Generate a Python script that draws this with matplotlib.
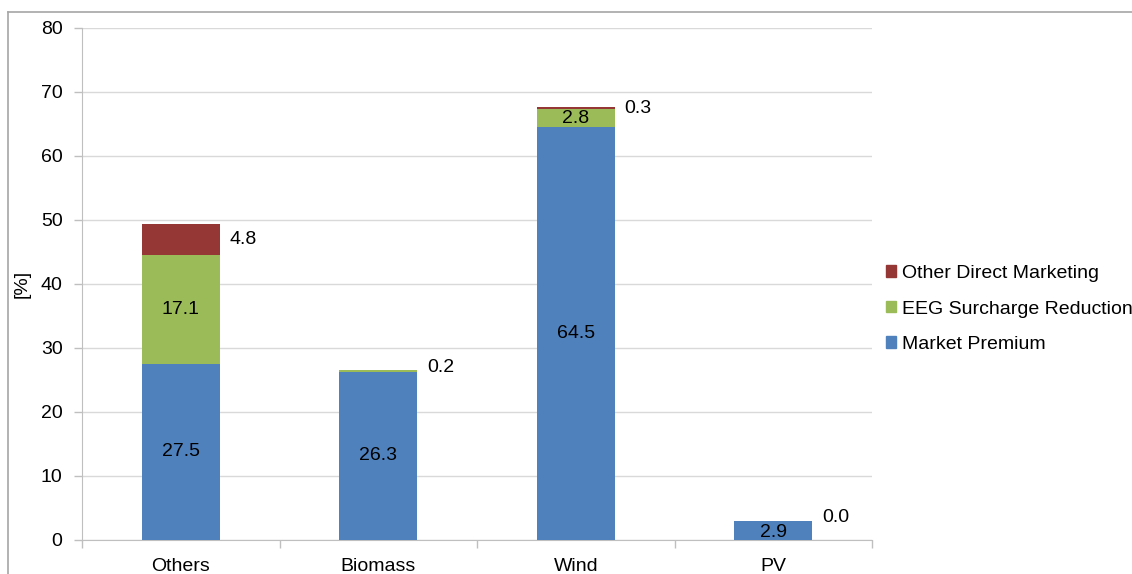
import matplotlib
matplotlib.use("Agg")
import matplotlib.pyplot as plt
from matplotlib.lines import Line2D
from matplotlib.patches import Patch
import numpy as np

plt.rcParams['font.family'] = ['Liberation Sans', 'DejaVu Sans']

categories = ["Others", "Biomass", "Wind", "PV"]
market_premium = [27.5, 26.3, 64.5, 2.9]
eeg_reduction = [17.1, 0.2, 2.8, 0.0]
other_direct = [4.8, 0.0, 0.3, 0.0]
inside_labels_mp = ["27.5", "26.3", "64.5", "2.9"]
inside_labels_eeg = ["17.1", "", "2.8", ""]
side_labels = ["4.8", "0.2", "0.3", "0.0"]

c_mp = "#4F81BD"
c_eeg = "#9BBB59"
c_odm = "#953735"

W, H = 1132, 574
fig = plt.figure(figsize=(W / 100, H / 100), dpi=100)
ax = fig.add_axes([82 / W, 1 - 540 / H, (872 - 82) / W, (540 - 28) / H])

x = np.arange(len(categories))
bw = 0.395
mp = np.array(market_premium)
eeg = np.array(eeg_reduction)
odm = np.array(other_direct)

ax.bar(x, mp, bw, color=c_mp, zorder=3)
ax.bar(x, eeg, bw, bottom=mp, color=c_eeg, zorder=3)
ax.bar(x, odm, bw, bottom=mp + eeg, color=c_odm, zorder=3)

fs = 14
for i in range(len(x)):
    ax.text(x[i], mp[i] / 2 if mp[i] > 5 else mp[i] / 2 - 0.3, inside_labels_mp[i],
            ha='center', va='center', fontsize=fs, zorder=4)
    if inside_labels_eeg[i]:
        ax.text(x[i], mp[i] + eeg[i] / 2, inside_labels_eeg[i],
                ha='center', va='center', fontsize=fs, zorder=4)
    if inside_labels_eeg[i]:
        ymid = mp[i] + eeg[i] + odm[i] / 2
    else:
        ymid = mp[i] + (eeg[i] + odm[i]) / 2 + 0.6
    ax.text(x[i] + bw / 2 + 0.05, ymid, side_labels[i],
            ha='left', va='center', fontsize=fs, zorder=4)

ax.set_xlim(-0.5, len(x) - 0.5)
ax.set_ylim(0, 80)
ax.set_yticks(np.arange(0, 81, 10))
ax.set_xticks(x)
ax.set_xticklabels(categories, fontsize=fs)
ax.set_xticks(np.arange(-0.5, len(x), 1.0), minor=True)
ax.tick_params(axis='x', which='major', length=0, pad=13)
ax.tick_params(axis='x', which='minor', length=6, color='#BFBFBF', width=1)
ax.tick_params(axis='y', length=6, color='#BFBFBF', width=1, labelsize=fs, pad=8)
ax.grid(axis='y', color='#D9D9D9', linewidth=1, zorder=0)
for s in ['top', 'right']:
    ax.spines[s].set_visible(False)
ax.spines['left'].set_color('#BFBFBF')
ax.spines['bottom'].set_color('#BFBFBF')
ax.set_ylabel("[%]", fontsize=fs, labelpad=7)

handles = [Patch(color=c_odm), Patch(color=c_eeg), Patch(color=c_mp)]
labels = ["Other Direct Marketing", "EEG Surcharge Reduction", "Market Premium"]
fig.legend(handles, labels, loc='center left', bbox_to_anchor=(868 / W, 1 - 309 / H),
           frameon=False, fontsize=fs, handlelength=0.55, handleheight=0.55,
           handletextpad=0.3, labelspacing=0.95)

fig.add_artist(Line2D([8 / W, 8 / W], [0, 1 - 12 / H], transform=fig.transFigure,
                      color='#A6A6A6', linewidth=1.2))
fig.add_artist(Line2D([8 / W, 1], [1 - 12 / H, 1 - 12 / H], transform=fig.transFigure,
                      color='#A6A6A6', linewidth=1.2))

fig.savefig("out.png", dpi=100, facecolor='white')
